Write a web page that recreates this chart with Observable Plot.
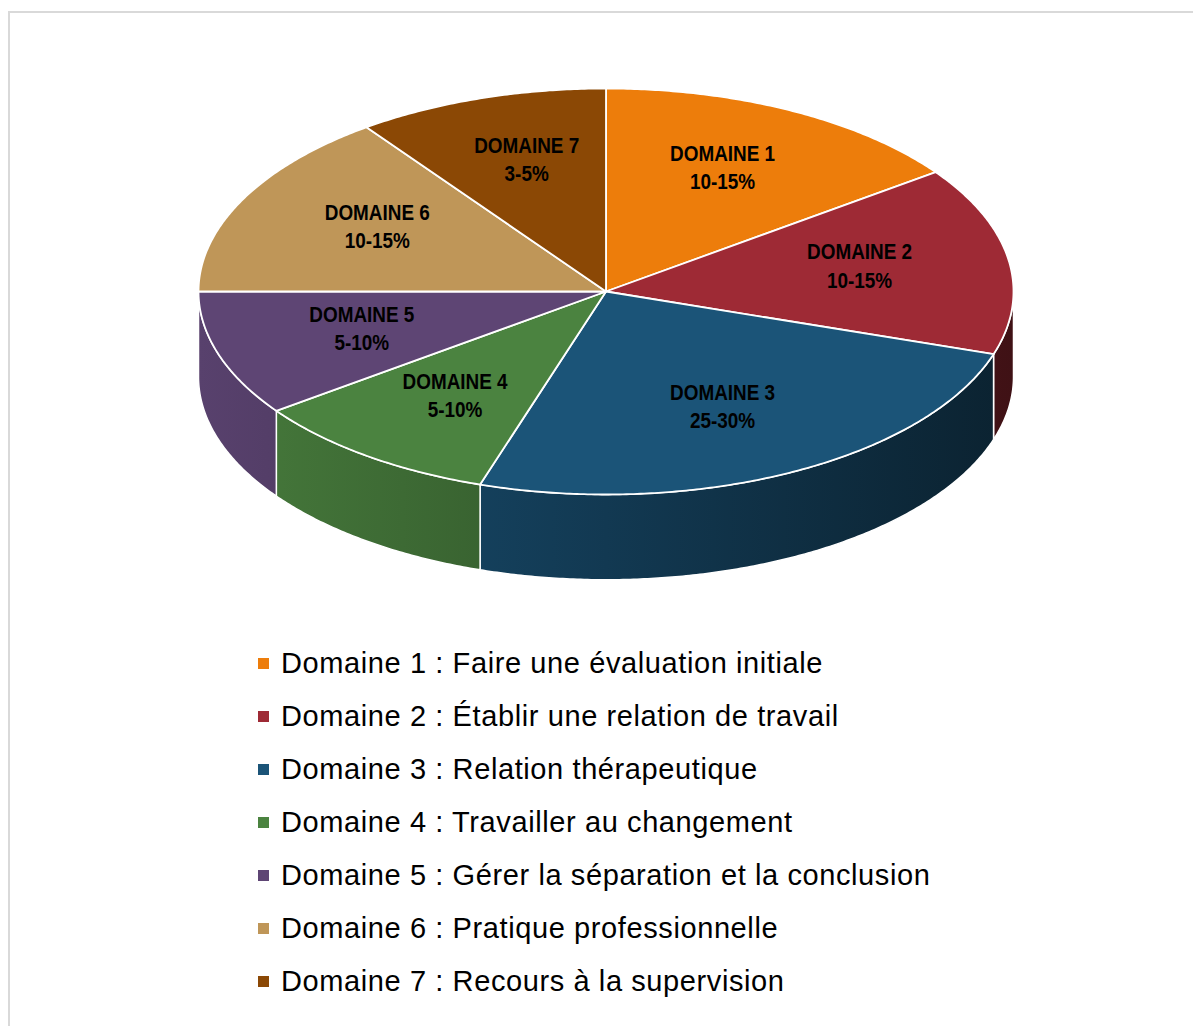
<!DOCTYPE html>
<html>
<head>
<meta charset="utf-8">
<script src="https://cdn.jsdelivr.net/npm/d3@7"></script>
<script src="https://cdn.jsdelivr.net/npm/@observablehq/plot@0.6"></script>
<style>
  html, body { margin: 0; padding: 0; background: #fff; }
  body { width: 1193px; height: 1026px; position: relative; overflow: hidden; }
  #frame { position: absolute; left: 8px; top: 11px; width: 1300px; height: 1100px; border: 2px solid #d9d9d9; box-sizing: border-box; }
  #chart { position: absolute; left: 0; top: 0; }
  #legend { position: absolute; left: 258px; top: 637px; font-family: "Liberation Sans", Arial, sans-serif; font-size: 29px; letter-spacing: 0.6px; color: #000; }
  .item { display: flex; align-items: center; height: 53px; white-space: nowrap; }
  .sw { width: 11px; height: 11px; margin-right: 12px; flex: none; }
</style>
</head>
<body>
<div id="frame"></div>
<div id="chart"></div>
<div id="legend"></div>
<script>
// ---- data ----
const domainNames = ["DOMAINE 1", "DOMAINE 2", "DOMAINE 3", "DOMAINE 4", "DOMAINE 5", "DOMAINE 6", "DOMAINE 7"];
const rangeLabels = ["10-15%", "10-15%", "25-30%", "5-10%", "5-10%", "10-15%", "3-5%"];
const shares = [15, 15, 25, 10, 10, 15, 10];
const sliceColors = ["#ED7D0B", "#9E2A35", "#1B5478", "#4B8340", "#5E4574", "#BF9658", "#8B4805"];
const legendLabels = [
  "Domaine 1 : Faire une évaluation initiale",
  "Domaine 2 : Établir une relation de travail",
  "Domaine 3 : Relation thérapeutique",
  "Domaine 4 : Travailler au changement",
  "Domaine 5 : Gérer la séparation et la conclusion",
  "Domaine 6 : Pratique professionnelle",
  "Domaine 7 : Recours à la supervision"
];

// ---- geometry (unit ellipse, y up) ----
const depth = 0.42;      // thickness of the 3D disc in ellipse units
const step = Math.PI / 180 / 2;
const arcs = d3.pie().sort(null).value(d => d)(shares);

function arcPoints(a, b, dy = 0) {
  const pts = [];
  const n = Math.max(2, Math.ceil((b - a) / step));
  for (let k = 0; k <= n; k++) {
    const t = a + (b - a) * k / n;
    pts.push({x: Math.sin(t), y: Math.cos(t) - dy});
  }
  return pts;
}

const tops = [];
const sides = [];
arcs.forEach((p, i) => {
  const pts = [{x: 0, y: 0}, ...arcPoints(p.startAngle, p.endAngle), {x: 0, y: 0}];
  pts.forEach(q => tops.push({...q, slice: domainNames[i]}));
  const a = Math.max(p.startAngle, Math.PI / 2), b = Math.min(p.endAngle, 3 * Math.PI / 2);
  if (b > a) {
    const up = arcPoints(a, b);
    const down = arcPoints(a, b, depth).reverse();
    sides.push({i, pts: [...up, ...down, up[0]]});
  }
});

const labels = arcs.map((p, i) => {
  const m = (p.startAngle + p.endAngle) / 2;
  return {x: 0.63 * Math.sin(m), y: 0.66 * Math.cos(m) + 0.03, text: domainNames[i] + "\n" + rangeLabels[i]};
});

const marks = [];
sides.forEach(s => {
  marks.push(Plot.line(s.pts, {x: "x", y: "y", fill: `url(#side${s.i})`, stroke: "#ffffff", strokeWidth: 1.5, strokeLinejoin: "round"}));
});
marks.push(Plot.line(tops, {x: "x", y: "y", z: "slice", fill: "slice", stroke: "#ffffff", strokeWidth: 1.8, strokeLinejoin: "round"}));
marks.push(Plot.text(labels, {x: "x", y: "y", text: "text", fontSize: 22, fontWeight: "bold", lineHeight: 1.28,
  fontFamily: "'Liberation Sans', Arial, sans-serif", fill: "#000"}));

const chart = Plot.plot({
  width: 1193,
  height: 620,
  x: {domain: [-1, 1], range: [198, 1013], axis: null},
  y: {domain: [1, -1], range: [88, 494], axis: null},
  color: {domain: domainNames, range: sliceColors},
  style: {background: "transparent"},
  marks
});

// condense the slice labels (narrow bold look)
chart.querySelectorAll('g[aria-label="text"] text').forEach(t => {
  t.setAttribute("transform", (t.getAttribute("transform") || "") + " scale(0.86,1)");
});

// horizontal lighting gradients for the side walls
const xs = chart.scale("x");
const x0 = xs.apply(-1), x1 = xs.apply(1);
const ns = "http://www.w3.org/2000/svg";
const defs = document.createElementNS(ns, "defs");
sliceColors.forEach((c, i) => {
  const g = document.createElementNS(ns, "linearGradient");
  g.setAttribute("id", "side" + i);
  g.setAttribute("gradientUnits", "userSpaceOnUse");
  g.setAttribute("x1", x0); g.setAttribute("x2", x1);
  g.setAttribute("y1", 0); g.setAttribute("y2", 0);
  [[0, 0.94], [0.5, 0.68], [1, 0.40]].forEach(([o, f]) => {
    const rgb = d3.rgb(c);
    const st = document.createElementNS(ns, "stop");
    st.setAttribute("offset", o);
    st.setAttribute("stop-color", d3.rgb(rgb.r * f, rgb.g * f, rgb.b * f).formatHex());
    g.appendChild(st);
  });
  defs.appendChild(g);
});
chart.insertBefore(defs, chart.firstChild);
document.getElementById("chart").appendChild(chart);

// legend
const legend = document.getElementById("legend");
legendLabels.forEach((t, i) => {
  const row = document.createElement("div");
  row.className = "item";
  const sw = document.createElement("span");
  sw.className = "sw";
  sw.style.background = sliceColors[i];
  const tx = document.createElement("span");
  tx.textContent = t;
  row.appendChild(sw); row.appendChild(tx);
  legend.appendChild(row);
});
</script>
</body>
</html>
